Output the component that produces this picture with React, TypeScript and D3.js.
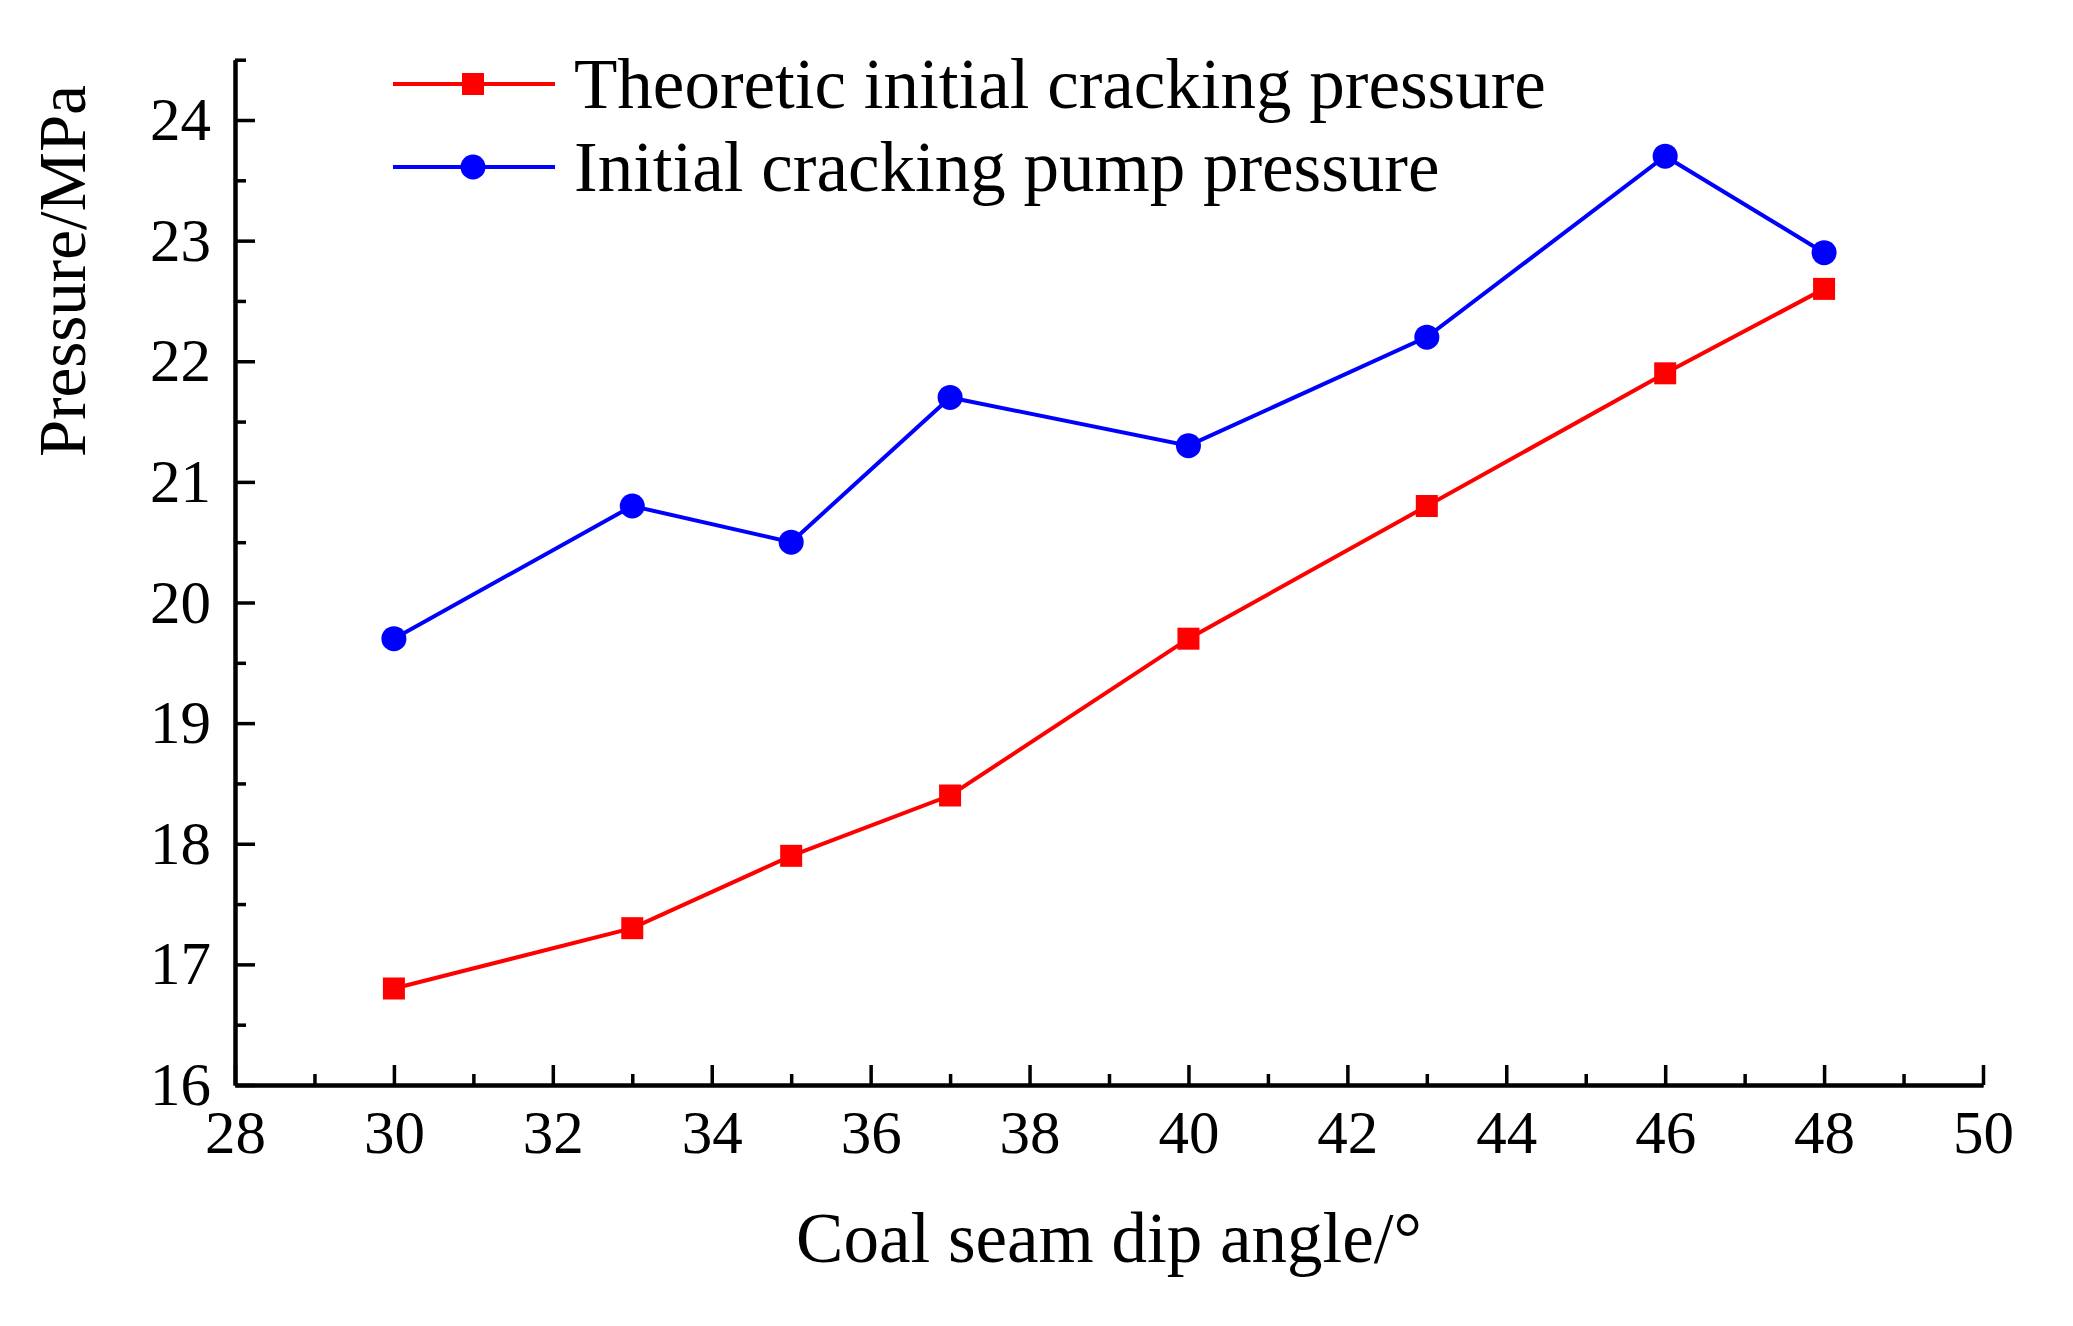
import React, { useRef, useEffect } from 'react';
import * as d3 from 'd3';

const angles = [30, 33, 35, 37, 40, 43, 46, 48];
const theoretic = [16.8, 17.3, 17.9, 18.4, 19.7, 20.8, 21.9, 22.6];
const pump = [19.7, 20.8, 20.5, 21.7, 21.3, 22.2, 23.7, 22.9];

const xMajor = [28, 30, 32, 34, 36, 38, 40, 42, 44, 46, 48, 50];
const xMinor = [29, 31, 33, 35, 37, 39, 41, 43, 45, 47, 49];
const yMajor = [16, 17, 18, 19, 20, 21, 22, 23, 24];
const yMinor = [16.5, 17.5, 18.5, 19.5, 20.5, 21.5, 22.5, 23.5, 24.5];

const series = [
  { name: 'Theoretic initial cracking pressure', values: theoretic, color: '#FF0000', shape: 'square' },
  { name: 'Initial cracking pump pressure', values: pump, color: '#0000FF', shape: 'circle' },
];

const W = 2073;
const H = 1326;
const FONT = '"Liberation Serif", "Times New Roman", serif';

export default function App() {
  const svgRef = useRef<SVGSVGElement>(null);

  useEffect(() => {
    document.body.style.margin = '0';
    const svg = d3.select(svgRef.current);
    svg.selectAll('*').remove();

    const x = d3.scaleLinear().domain([28, 50]).range([235, 1983]);
    const y = d3.scaleLinear().domain([16, 24.5]).range([1085, 59.7]);

    // axes, ticks pointing inward
    const xg = svg.append('g').attr('transform', `translate(0,${y(16)})`);
    xg.append('g').call(d3.axisBottom(x).tickValues(xMinor).tickSizeInner(-11).tickSizeOuter(0).tickFormat(() => ''));
    xg.append('g').call(d3.axisBottom(x).tickValues(xMajor).tickSizeInner(-20).tickSizeOuter(0).tickPadding(25).tickFormat(d3.format('d')));

    const yg = svg.append('g').attr('transform', `translate(${x(28)},0)`);
    yg.append('g').call(d3.axisLeft(y).tickValues(yMinor).tickSizeInner(-11).tickSizeOuter(0).tickFormat(() => ''));
    yg.append('g').call(d3.axisLeft(y).tickValues(yMajor).tickSizeInner(-20).tickSizeOuter(0).tickPadding(24).tickFormat(d3.format('d')));

    svg.selectAll('.domain').attr('stroke', '#000').attr('stroke-width', 4);
    svg.selectAll('.tick line').attr('stroke', '#000').attr('stroke-width', 3.5);
    svg.selectAll('.tick text').attr('font-family', FONT).attr('font-size', 61).attr('fill', '#000');

    const line = d3.line<number>()
      .x((_, i) => x(angles[i]))
      .y((d) => y(d));

    series.forEach((s) => {
      svg.append('path').datum(s.values).attr('d', line)
        .attr('fill', 'none').attr('stroke', s.color).attr('stroke-width', 4);
      s.values.forEach((v, i) => {
        if (s.shape === 'square') {
          svg.append('rect').attr('x', x(angles[i]) - 11).attr('y', y(v) - 11)
            .attr('width', 22).attr('height', 22).attr('fill', s.color);
        } else {
          svg.append('circle').attr('cx', x(angles[i])).attr('cy', y(v)).attr('r', 12.5).attr('fill', s.color);
        }
      });
    });

    // Legend
    series.forEach((s, i) => {
      const ly = 84 + i * 83;
      const g = svg.append('g');
      g.append('line').attr('x1', 393).attr('x2', 555).attr('y1', ly).attr('y2', ly)
        .attr('stroke', s.color).attr('stroke-width', 4);
      if (s.shape === 'square') {
        g.append('rect').attr('x', 462).attr('y', ly - 11).attr('width', 22).attr('height', 22).attr('fill', s.color);
      } else {
        g.append('circle').attr('cx', 473).attr('cy', ly).attr('r', 12.5).attr('fill', s.color);
      }
      g.append('text').attr('x', 574).attr('y', ly + 24)
        .attr('font-family', FONT).attr('font-size', 71).attr('fill', '#000')
        .text(s.name);
    });

    // Axis titles
    svg.append('text')
      .attr('transform', `translate(85,271) rotate(-90)`)
      .attr('text-anchor', 'middle')
      .attr('font-family', FONT).attr('font-size', 67).attr('fill', '#000')
      .text('Pressure/MPa');

    svg.append('text')
      .attr('x', x(39)).attr('y', 1262)
      .attr('text-anchor', 'middle')
      .attr('font-family', FONT).attr('font-size', 71).attr('fill', '#000')
      .text('Coal seam dip angle/°');
  }, []);

  return <svg ref={svgRef} width={W} height={H} style={{ display: 'block', background: '#fff' }} />;
}
